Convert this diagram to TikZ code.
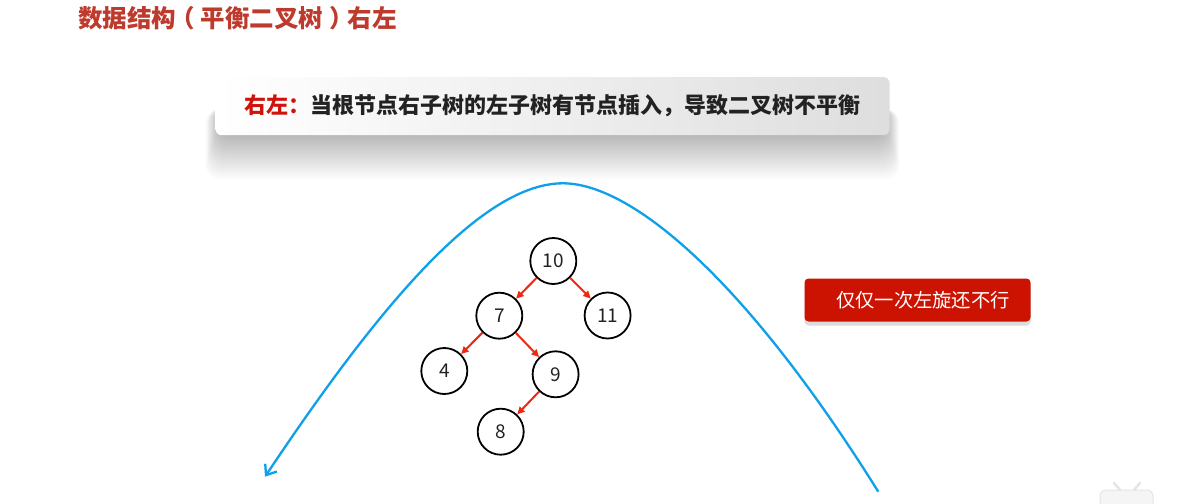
\documentclass[tikz,border=0pt]{standalone}
\usepackage{fontspec}
\newfontfamily\cjk{Noto Sans CJK SC}
\usetikzlibrary{arrows.meta,shadows}
\definecolor{titlered}{RGB}{190,58,44}
\definecolor{labelred}{RGB}{208,18,12}
\definecolor{boxred}{RGB}{204,18,0}
\definecolor{treered}{RGB}{240,40,18}
\definecolor{curveblue}{RGB}{14,160,232}
\definecolor{txtdark}{RGB}{34,34,34}
\tikzset{
  treenode/.style={circle, draw=black, line width=1.8pt, minimum size=46pt, inner sep=0pt,
    font=\cjk\fontsize{19}{19}\selectfont, text=txtdark},
  treeedge/.style={draw=treered, line width=2pt, -{Triangle[length=7.5pt,width=7pt]}},
  curve/.style={draw=curveblue, line width=2.3pt, -{Straight Barb[length=9pt,width=14pt,line width=2.3pt]}},
  shadowlayer/.style={fill=black, opacity=0.013, rounded corners=14pt},
  banner/.style={rounded corners=6pt, minimum width=674pt, minimum height=58pt, inner sep=0pt,
    left color=white, right color=black!13,
    font=\cjk\bfseries\fontsize{22}{22}\selectfont, text=txtdark},
  notebox/.style={fill=boxred, rounded corners=4pt, minimum width=226pt, minimum height=43pt,
    inner sep=0pt, text=white, font=\cjk\fontsize{19.3}{19.3}\selectfont,
    drop shadow={shadow xshift=0pt, shadow yshift=-4pt, fill=black!14, opacity=1}},
  titlestyle/.style={anchor=west, inner sep=0pt, text=titlered, font=\cjk\bfseries\fontsize{24.5}{24.5}\selectfont}
}
\begin{document}
\begin{tikzpicture}[x=1pt,y=-1pt]
\fill[white] (0,0) rectangle (1193,503);
\useasboundingbox (0,0) rectangle (1193,503);

% title
\node[titlestyle] (title) at (78,18.5) {数据结构\kern-6pt（\kern6pt平衡二叉树\kern6pt）\kern-6pt右左};

% soft shadow of the banner
\foreach \i in {1,...,26} {
  \fill[shadowlayer] ({220-0.55*\i},{104+0.2*\i}) rectangle ({885+0.55*\i},{130+1.9*\i});
}
% banner
\node[banner] (banner) at (552.6,106.2) {\textcolor{labelred}{右左：}当根节点右子树的左子树有节点插入，导致二叉树不平衡};

% note box
\node[notebox] (note) at (917.5,300) {\hspace*{11pt}仅仅一次左旋还不行};

% blue curve
\coordinate (cstart) at (878.3,491.7);
\coordinate (cpeak) at (563,183.3);
\coordinate (cend) at (265,476.7);
\draw[curve] (cstart) .. controls (740.5,271.2) and (628,183.3) .. (cpeak)
  .. controls (483,183.3) and (381.6,302) .. (cend);

% tree
\node[treenode] (n10) at (553.3,261) {10};
\node[treenode] (n7)  at (499.3,315.7) {7};
\node[treenode] (n11) at (607.6,315.5) {11};
\node[treenode] (n4)  at (444.3,371) {4};
\node[treenode] (n9)  at (555.6,374.3) {9};
\node[treenode] (n8)  at (500.7,431.7) {8};

\draw[treeedge] (n10) -- (n7);
\draw[treeedge] (n10) -- (n11);
\draw[treeedge] (n7) -- (n4);
\draw[treeedge] (n7) -- (n9);
\draw[treeedge] (n9) -- (n8);

% faint watermark icon bottom right
\draw[black!10, fill=black!4, line width=1pt, rounded corners=6pt] (1100,490) rectangle (1153,512);
\draw[black!10, line width=2.5pt, line cap=round] (1114,483) -- (1120,490);
\draw[black!10, line width=2.5pt, line cap=round] (1140,483) -- (1134,490);
\end{tikzpicture}
\end{document}
